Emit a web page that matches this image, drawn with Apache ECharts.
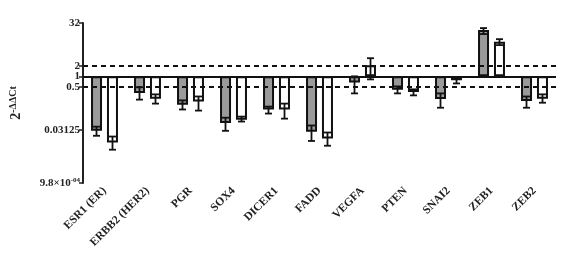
<!DOCTYPE html>
<html>
<head>
  <meta charset="utf-8">
  <script src="https://cdn.jsdelivr.net/npm/echarts@6/dist/echarts.min.js"></script>
  <style>
    html, body { margin: 0; padding: 0; background: #fff; }
  </style>
</head>
<body>
<div id="main" style="width:564px;height:264px;"></div>
<script>
  // genes on the x axis
  var genes = ['ESR1 (ER)', 'ERBB2 (HER2)', 'PGR', 'SOX4', 'DICER1', 'FADD',
    'VEGFA', 'PTEN', 'SNAI2', 'ZEB1', 'ZEB2'];
  // fold change (2^-ddCt), grey bars and white bars
  var greyVals = [0.029, 0.34, 0.157, 0.048, 0.116, 0.0274, 0.67, 0.42, 0.23, 20.2, 0.2];
  var whiteVals = [0.0136, 0.233, 0.195, 0.060, 0.116, 0.0177, 2.05, 0.36, 0.77, 9.4, 0.233];
  // error bar ends [low, high]
  var greyErr = [[0.021, 0.038], [0.22, 0.49], [0.116, 0.21], [0.029, 0.068], [0.089, 0.14],
    [0.015, 0.041], [0.33, 1.0], [0.33, 0.52], [0.13, 0.33], [15.6, 23], [0.13, 0.27]];
  var whiteErr = [[0.0085, 0.020], [0.17, 0.31], [0.108, 0.27], [0.053, 0.073], [0.064, 0.17],
    [0.011, 0.026], [0.82, 3.25], [0.29, 0.43], [0.63, 0.94], [7.6, 11.2], [0.18, 0.31]];
  // y tick values
  var yTicks = [0.0009765625, 0.03125, 0.5, 1, 2, 32];

  var chart = echarts.init(document.getElementById('main'));
  var font = 'Liberation Serif';

  function errSeries(errs, offset) {
    return {
      type: 'custom',
      z: 5,
      data: errs.map(function (e, i) { return [i, e[0], e[1]]; }),
      encode: { x: 0, y: [1, 2] },
      renderItem: function (params, api) {
        var lo = api.coord([api.value(0), api.value(1)]);
        var hi = api.coord([api.value(0), api.value(2)]);
        var x = lo[0] + offset;
        var cap = 3.5;
        var st = { stroke: '#111', lineWidth: 1.8 };
        return {
          type: 'group',
          children: [
            { type: 'line', shape: { x1: x, y1: lo[1], x2: x, y2: hi[1] }, style: st },
            { type: 'line', shape: { x1: x - cap, y1: lo[1], x2: x + cap, y2: lo[1] }, style: st },
            { type: 'line', shape: { x1: x - cap, y1: hi[1], x2: x + cap, y2: hi[1] }, style: st }
          ]
        };
      }
    };
  }

  var option = {
    animation: false,
    backgroundColor: '#fff',
    grid: { left: 81, right: 8, top: 23, bottom: 81 },
    xAxis: {
      type: 'category',
      data: genes,
      axisLine: { show: false },
      axisTick: { show: false },
      axisLabel: {
        rotate: 45,
        margin: 6,
        interval: 0,
        fontFamily: font,
        fontWeight: 'bold',
        fontSize: 11.5,
        color: '#222'
      }
    },
    yAxis: {
      type: 'log',
      logBase: 2,
      min: 0.0009765625,
      max: 32,
      name: '{b|2}{s|-ΔΔCt}',
      nameLocation: 'middle',
      nameGap: 58,
      nameRotate: 90,
      nameTextStyle: {
        rich: {
          b: { fontFamily: font, fontWeight: 'bold', fontSize: 14, color: '#222' },
          s: { fontFamily: font, fontWeight: 'bold', fontSize: 10, color: '#222', verticalAlign: 'top', padding: [0, 0, 7, 0] }
        }
      },
      splitLine: { show: false },
      axisLine: { show: true, lineStyle: { color: '#222', width: 2 } },
      axisTick: { show: true, length: 4, lineStyle: { color: '#222', width: 1.5 }, customValues: yTicks },
      axisLabel: {
        customValues: yTicks,
        margin: 3,
        fontFamily: font,
        fontWeight: 'bold',
        fontSize: 11,
        color: '#222',
        formatter: function (v) {
          if (v < 0.001) return '{n|9.8×10}{s|-04}';
          return '{n|' + (Math.round(v * 100000) / 100000) + '}';
        },
        rich: {
          n: { fontFamily: font, fontWeight: 'bold', fontSize: 11, color: '#222' },
          s: { fontFamily: font, fontWeight: 'bold', fontSize: 7, color: '#222', verticalAlign: 'top', padding: [0, 0, 6, 0] }
        }
      }
    },
    series: [
      {
        type: 'bar',
        data: greyVals,
        barWidth: 11,
        barGap: '45%',
        itemStyle: { color: '#9a9a9a', borderColor: '#111', borderWidth: 2 },
        markLine: {
          silent: true,
          symbol: 'none',
          label: { show: false },
          data: [
            { yAxis: 1, lineStyle: { type: 'solid', color: '#111', width: 1.8 } },
            { yAxis: 2, lineStyle: { type: [5, 4], color: '#111', width: 1.8 } },
            { yAxis: 0.5, lineStyle: { type: [5, 4], color: '#111', width: 1.8 } }
          ]
        }
      },
      {
        type: 'bar',
        data: whiteVals,
        barWidth: 11,
        barGap: '45%',
        itemStyle: { color: '#fff', borderColor: '#111', borderWidth: 2 }
      },
      errSeries(greyErr, -8),
      errSeries(whiteErr, 8)
    ]
  };
  chart.setOption(option);
</script>
</body>
</html>
